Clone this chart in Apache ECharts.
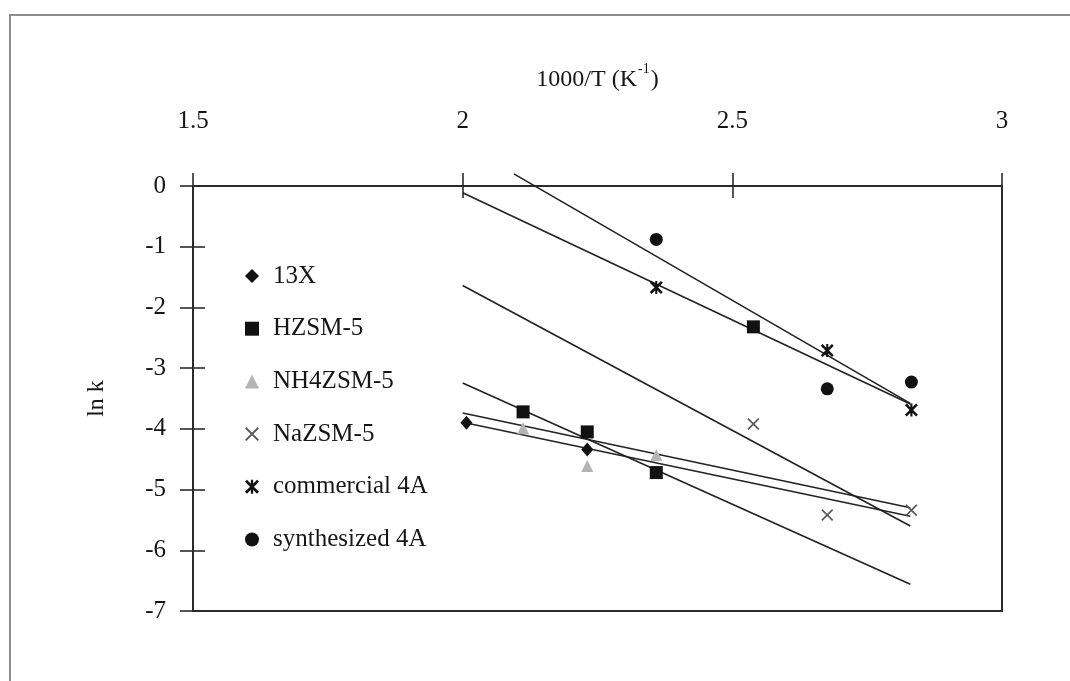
<!DOCTYPE html>
<html>
<head>
<meta charset="utf-8">
<title>ln k vs 1000/T</title>
<script src="https://cdn.jsdelivr.net/npm/echarts@6/dist/echarts.min.js"></script>
<style>
  html, body { margin: 0; padding: 0; background: #ffffff; }
  #chart { width: 1070px; height: 681px; }
</style>
</head>
<body>
<div id="chart"></div>
<script>
// Measured points: x = 1000/T (K^-1), y = ln k
const x13X = [2.007, 2.231];
const y13X = [-3.90, -4.34];
const xHZSM5 = [2.112, 2.231, 2.359, 2.539];
const yHZSM5 = [-3.72, -4.05, -4.72, -2.32];
const xNH4ZSM5 = [2.112, 2.231, 2.359];
const yNH4ZSM5 = [-3.99, -4.61, -4.43];
const xNaZSM5 = [2.539, 2.676, 2.832];
const yNaZSM5 = [-3.92, -5.42, -5.34];
const xCom4A = [2.359, 2.676, 2.832];
const yCom4A = [-1.67, -2.71, -3.69];
const xSyn4A = [2.359, 2.676, 2.832];
const ySyn4A = [-0.88, -3.34, -3.23];

// Linear trendline end values (start / end)
const trendX = [2.0, 2.83];
const trend13X = [-3.89, -5.44];
const trendHZSM5 = [-3.245, -6.56];
const trendNH4ZSM5 = [-3.74, -5.30];
const trendNaZSM5 = [-1.64, -5.60];
const trendCom4A = [-0.11, -3.59];
const trendSyn4AX = [2.095, 2.83];
const trendSyn4A = [0.20, -3.58];

// Axis ticks
const xTicks = [1.5, 2, 2.5, 3];
const yTicks = [0, -1, -2, -3, -4, -5, -6, -7];

const names = ['13X', 'HZSM-5', 'NH4ZSM-5', 'NaZSM-5', 'commercial 4A', 'synthesized 4A'];

const pairs = (xs, ys) => xs.map((x, i) => [x, ys[i]]);

const SERIF = '"Liberation Serif", "DejaVu Serif", serif';
const INK = '#161616';

const crossPath = 'path://M0,1L1,0L10,9L9,10Z M9,0L10,1L1,10L0,9Z';
const starPath = 'path://M0,1.4L1.4,0L10,8.6L8.6,10Z M8.6,0L10,1.4L1.4,10L0,8.6Z M4.2,0L5.8,0L5.8,10L4.2,10Z';

function pointSeries(name, data, symbol, size, color) {
  return {
    name: name,
    type: 'scatter',
    data: data,
    symbol: symbol,
    symbolSize: size,
    itemStyle: { color: color, opacity: 1 },
    emphasis: { disabled: true },
    z: 5
  };
}

function trendSeries(xs, ys, clip) {
  return {
    type: 'line',
    data: pairs(xs, ys),
    showSymbol: false,
    symbol: 'none',
    clip: clip,
    lineStyle: { color: '#222222', width: 1.6 },
    emphasis: { disabled: true },
    silent: true,
    z: 3
  };
}

const chart = echarts.init(document.getElementById('chart'), null, { renderer: 'canvas' });

chart.setOption({
  backgroundColor: '#ffffff',
  animation: false,
  graphic: [{
    type: 'rect',
    shape: { x: 10, y: 15, width: 1200, height: 800 },
    style: { fill: 'none', stroke: '#8c8c8c', lineWidth: 2 },
    silent: true,
    z: -10
  }],
  grid: {
    left: 193, right: 68, top: 186, bottom: 70,
    show: true, borderColor: '#2b2b2b', borderWidth: 2, backgroundColor: 'transparent'
  },
  xAxis: [{
    type: 'value',
    position: 'top',
    min: 1.5, max: 3, interval: 0.5,
    name: '{a|1000/T (K}{s|-1}{a|)}',
    nameLocation: 'middle',
    nameGap: 94,
    nameTextStyle: {
      rich: {
        a: { fontFamily: SERIF, fontSize: 24, color: INK, lineHeight: 30, verticalAlign: 'bottom' },
        s: { fontFamily: SERIF, fontSize: 14, color: INK, lineHeight: 30, verticalAlign: 'top', padding: [0, 1, 0, 1] }
      }
    },
    axisLine: { show: true, onZero: false, lineStyle: { color: '#2b2b2b', width: 2 } },
    axisTick: { show: true, inside: false, length: 13, lineStyle: { color: '#2b2b2b', width: 1.6 } },
    axisLabel: {
      margin: 52,
      fontFamily: SERIF, fontSize: 25, color: INK,
      formatter: v => String(v)
    },
    splitLine: { show: false }
  }, {
    type: 'value',
    position: 'top',
    min: 1.5, max: 3, interval: 0.5,
    axisLine: { show: false, onZero: false },
    axisTick: { show: true, inside: true, length: 12, lineStyle: { color: '#2b2b2b', width: 1.6 } },
    axisLabel: { show: false },
    splitLine: { show: false }
  }],
  yAxis: [{
    type: 'value',
    min: -7, max: 0, interval: 1,
    name: 'ln k',
    nameLocation: 'middle',
    nameGap: 84,
    nameRotate: 90,
    nameTextStyle: { fontFamily: SERIF, fontSize: 24, color: INK },
    axisLine: { show: true, onZero: false, lineStyle: { color: '#2b2b2b', width: 2 } },
    axisTick: { show: true, inside: false, length: 13, lineStyle: { color: '#2b2b2b', width: 1.6 } },
    axisLabel: { margin: 27, fontFamily: SERIF, fontSize: 25, color: INK },
    splitLine: { show: false }
  }, {
    type: 'value',
    min: -7, max: 0, interval: 1,
    position: 'left',
    axisLine: { show: false, onZero: false },
    axisTick: { show: true, inside: true, length: 12, lineStyle: { color: '#2b2b2b', width: 1.6 } },
    axisLabel: { show: false },
    splitLine: { show: false }
  }],
  legend: {
    data: names,
    orient: 'vertical',
    left: 240,
    top: 258,
    itemWidth: 14,
    itemHeight: 14,
    itemGap: 26.7,
    selectedMode: false,
    textStyle: { fontFamily: SERIF, fontSize: 25, color: INK, lineHeight: 26, padding: [0, 0, 0, 9] }
  },
  series: [
    trendSeries(trendX, trend13X, true),
    trendSeries(trendX, trendHZSM5, true),
    trendSeries(trendX, trendNH4ZSM5, true),
    trendSeries(trendX, trendNaZSM5, true),
    trendSeries(trendX, trendCom4A, true),
    trendSeries(trendSyn4AX, trendSyn4A, false),
    pointSeries(names[0], pairs(x13X, y13X), 'diamond', [12, 14], '#111111'),
    pointSeries(names[1], pairs(xHZSM5, yHZSM5), 'rect', 13, '#111111'),
    pointSeries(names[2], pairs(xNH4ZSM5, yNH4ZSM5), 'triangle', 12, '#b4b4b4'),
    pointSeries(names[3], pairs(xNaZSM5, yNaZSM5), crossPath, 12, '#5a5a5a'),
    pointSeries(names[4], pairs(xCom4A, yCom4A), starPath, 13, '#111111'),
    pointSeries(names[5], pairs(xSyn4A, ySyn4A), 'circle', 13, '#111111')
  ]
});
</script>
</body>
</html>
